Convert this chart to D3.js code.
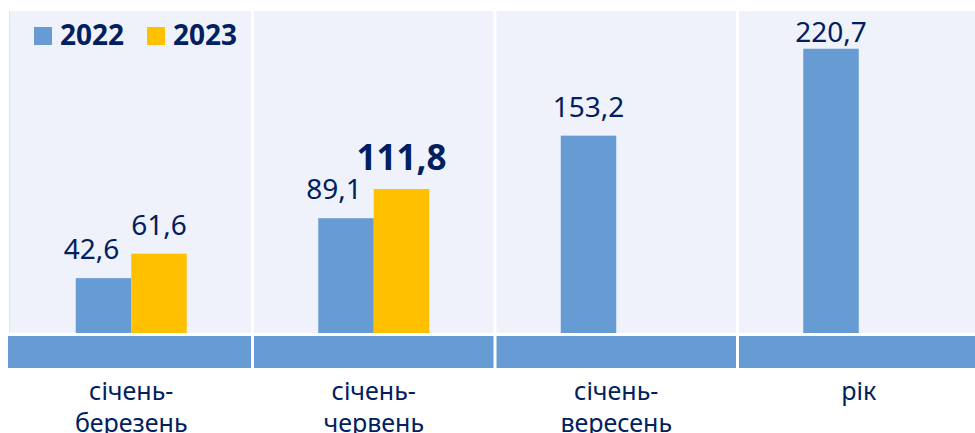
<!DOCTYPE html>
<html>
<head>
<meta charset="utf-8">
<script src="https://cdn.jsdelivr.net/npm/d3@7"></script>
<style>
  body { margin: 0; background: white; }
  svg { display: block; font-family: "Noto Sans", "Open Sans", sans-serif; }
</style>
</head>
<body>
<div id="chart"></div>
<script>
// data
var categories = [["січень-", "березень"], ["січень-", "червень"], ["січень-", "вересень"], ["рік"]];
var years = ["2022", "2023"];
var values2022 = [42.6, 89.1, 153.2, 220.7];
var values2023 = [61.6, 111.8, null, null];
var colors = ["#679BD3", "#FFC000"];

var width = 975, height = 433;
var navy = "#002060";

var svg = d3.select("#chart")
  .append("svg")
  .attr("width", width)
  .attr("height", height);

var plotTop = 11, plotBottom = 333;

var x0 = d3.scaleBand()
  .domain(d3.range(categories.length))
  .range([10, 980])
  .paddingInner(0);

var x1 = d3.scaleBand()
  .domain(years)
  .range([0, x0.bandwidth()])
  .paddingInner(0)
  .paddingOuter(1.185);

var y = d3.scaleLinear()
  .domain([0, 250])
  .range([plotBottom, plotTop]);

// panel backgrounds
svg.append("g")
  .selectAll("rect")
  .data(d3.range(categories.length))
  .enter().append("rect")
  .attr("x", d => x0(d) + (d == 0 ? 0 : 1.5))
  .attr("y", plotTop)
  .attr("width", d => x0.bandwidth() - (d == 0 ? 1.5 : 3))
  .attr("height", plotBottom - plotTop)
  .attr("fill", "#EFF2FA");

svg.append("line")
  .attr("x1", 9.5).attr("x2", 9.5)
  .attr("y1", plotTop).attr("y2", plotBottom)
  .attr("stroke", "#E2E4EA");

// blue category band under the plot
svg.append("g")
  .selectAll("rect")
  .data(d3.range(categories.length))
  .enter().append("rect")
  .attr("x", d => x0(d) + (d == 0 ? -2 : 1.5))
  .attr("y", 336)
  .attr("width", d => x0.bandwidth() - (d == 0 ? -0.5 : 3))
  .attr("height", 32)
  .attr("fill", colors[0]);

// bars
var series = [values2022, values2023];
var bars = [];
series.forEach(function (vals, s) {
  vals.forEach(function (v, i) {
    if (v != null) bars.push({ cat: i, year: years[s], s: s, value: v });
  });
});

svg.append("g")
  .selectAll("rect")
  .data(bars)
  .enter().append("rect")
  .attr("x", d => x0(d.cat) + x1(d.year))
  .attr("y", d => y(d.value))
  .attr("width", x1.bandwidth())
  .attr("height", d => y(0) - y(d.value))
  .attr("fill", d => colors[d.s]);

// value labels
var fmt = function (v) { return d3.format(".1f")(v).replace(".", ","); };
var lastNew = d3.max(values2023.map((v, i) => v != null ? i : -1));

svg.append("g")
  .selectAll("text")
  .data(bars)
  .enter().append("text")
  .attr("x", function (d) {
    var cx = x0(d.cat) + x1(d.year) + x1.bandwidth() / 2;
    if (d.s == 0 && values2023[d.cat] != null) cx -= 12;
    return cx;
  })
  .attr("y", d => Math.max(y(d.value) - 19, 42))
  .attr("text-anchor", "middle")
  .attr("fill", navy)
  .style("font-size", d => (d.s == 1 && d.cat == lastNew) ? "35px" : "28px")
  .style("font-weight", d => (d.s == 1 && d.cat == lastNew) ? "bold" : "normal")
  .text(d => fmt(d.value));

// category labels
var catText = svg.append("g")
  .selectAll("text")
  .data(categories)
  .enter().append("text")
  .attr("x", (d, i) => x0(i) + x0.bandwidth() / 2)
  .attr("y", 400)
  .attr("text-anchor", "middle")
  .attr("fill", navy)
  .style("font-size", "25px");

catText.selectAll("tspan")
  .data(d => d)
  .enter().append("tspan")
  .attr("x", function () { return d3.select(this.parentNode).attr("x"); })
  .attr("dy", (d, j) => j == 0 ? 0 : 32)
  .text(d => d);

// legend
var legend = svg.append("g")
  .selectAll("g")
  .data(years)
  .enter().append("g")
  .attr("transform", (d, i) => "translate(" + (34 + i * 113) + ",27)");

legend.append("rect")
  .attr("width", 18)
  .attr("height", 18)
  .attr("fill", (d, i) => colors[i]);

legend.append("text")
  .attr("x", 26)
  .attr("y", 18)
  .attr("fill", navy)
  .style("font-size", "28px")
  .style("font-weight", "bold")
  .text(d => d);
</script>
</body>
</html>
